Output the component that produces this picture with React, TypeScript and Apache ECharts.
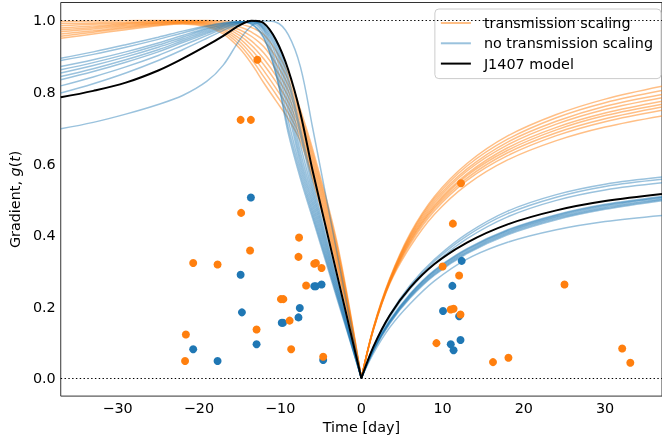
import React, { useEffect, useRef } from "react";
import * as echarts from "echarts";

const T_LEFT = [-37, -33, -29, -25, -22, -19, -17, -15, -13.5, -12, -10.5, -9, -7.5, -6, -3, 0];
const T_RIGHT = [0, 1.5, 3.5, 6, 9, 13, 18, 24, 30, 37];

const X_TICKS = [-30, -20, -10, 0, 10, 20, 30];
const Y_TICKS = [0, 0.2, 0.4, 0.6, 0.8, 1.0];

const BLACK_LEFT = [0.785, 0.803, 0.826, 0.86, 0.893, 0.93, 0.957, 0.986, 0.999, 0.992, 0.945, 0.862, 0.74, 0.58, 0.29, 0];
const BLACK_RIGHT = [0, 0.089, 0.176, 0.253, 0.319, 0.379, 0.43, 0.469, 0.495, 0.515];

const ORANGE_LEFT = [
  [0.95, 0.962, 0.974, 0.985, 0.99, 0.982, 0.962, 0.922, 0.878, 0.825, 0.775, 0.725, 0.662, 0.555, 0.31, 0],
  [0.956, 0.967, 0.978, 0.987, 0.991, 0.985, 0.968, 0.932, 0.891, 0.842, 0.793, 0.741, 0.674, 0.566, 0.319, 0],
  [0.962, 0.971, 0.981, 0.989, 0.993, 0.988, 0.973, 0.941, 0.904, 0.859, 0.81, 0.757, 0.685, 0.576, 0.328, 0],
  [0.968, 0.976, 0.984, 0.991, 0.994, 0.99, 0.977, 0.95, 0.917, 0.876, 0.828, 0.772, 0.696, 0.587, 0.336, 0],
  [0.974, 0.98, 0.987, 0.993, 0.995, 0.992, 0.982, 0.958, 0.93, 0.892, 0.845, 0.788, 0.707, 0.598, 0.345, 0],
  [0.979, 0.984, 0.99, 0.994, 0.996, 0.994, 0.986, 0.966, 0.942, 0.909, 0.862, 0.803, 0.718, 0.608, 0.354, 0],
  [0.985, 0.989, 0.992, 0.996, 0.998, 0.996, 0.99, 0.974, 0.955, 0.926, 0.879, 0.819, 0.729, 0.619, 0.363, 0],
  [0.991, 0.993, 0.995, 0.998, 0.999, 0.998, 0.994, 0.982, 0.967, 0.943, 0.897, 0.834, 0.739, 0.629, 0.371, 0],
  [0.997, 0.998, 0.999, 1.0, 1.0, 1.0, 0.998, 0.99, 0.98, 0.96, 0.915, 0.85, 0.75, 0.64, 0.38, 0],
];
const ORANGE_RIGHT = [
  [0, 0.143, 0.279, 0.404, 0.508, 0.6, 0.677, 0.737, 0.78, 0.816],
  [0, 0.142, 0.277, 0.4, 0.502, 0.593, 0.668, 0.728, 0.77, 0.804],
  [0, 0.141, 0.275, 0.396, 0.496, 0.585, 0.66, 0.718, 0.76, 0.793],
  [0, 0.14, 0.273, 0.392, 0.49, 0.579, 0.652, 0.71, 0.751, 0.784],
  [0, 0.139, 0.271, 0.388, 0.484, 0.571, 0.644, 0.701, 0.741, 0.774],
  [0, 0.139, 0.27, 0.384, 0.479, 0.566, 0.637, 0.694, 0.734, 0.766],
  [0, 0.138, 0.268, 0.38, 0.474, 0.559, 0.63, 0.686, 0.725, 0.758],
  [0, 0.137, 0.267, 0.375, 0.468, 0.553, 0.622, 0.678, 0.717, 0.749],
  [0, 0.136, 0.264, 0.367, 0.458, 0.541, 0.61, 0.664, 0.702, 0.733],
];

const BLUE_LEFT = [
  [0.894, 0.912, 0.932, 0.953, 0.97, 0.985, 0.993, 0.997, 0.989, 0.95, 0.85, 0.685, 0.558, 0.447, 0.223, 0],
  [0.888, 0.905, 0.925, 0.947, 0.965, 0.982, 0.991, 0.996, 0.99, 0.953, 0.85, 0.7, 0.571, 0.457, 0.229, 0],
  [0.871, 0.89, 0.912, 0.937, 0.958, 0.978, 0.989, 0.996, 0.993, 0.962, 0.865, 0.72, 0.585, 0.468, 0.234, 0],
  [0.862, 0.882, 0.905, 0.931, 0.953, 0.975, 0.987, 0.995, 0.994, 0.97, 0.88, 0.745, 0.6, 0.48, 0.24, 0],
  [0.853, 0.874, 0.898, 0.925, 0.948, 0.971, 0.985, 0.995, 0.996, 0.975, 0.9, 0.765, 0.615, 0.492, 0.246, 0],
  [0.843, 0.865, 0.89, 0.918, 0.943, 0.967, 0.983, 0.994, 0.997, 0.978, 0.915, 0.785, 0.632, 0.505, 0.253, 0],
  [0.834, 0.857, 0.883, 0.912, 0.938, 0.963, 0.98, 0.993, 0.998, 0.982, 0.925, 0.805, 0.652, 0.519, 0.259, 0],
  [0.817, 0.842, 0.87, 0.902, 0.93, 0.958, 0.977, 0.992, 0.998, 0.986, 0.935, 0.825, 0.68, 0.533, 0.267, 0],
  [0.797, 0.823, 0.853, 0.888, 0.918, 0.95, 0.972, 0.99, 0.998, 0.99, 0.945, 0.84, 0.695, 0.549, 0.274, 0],
  [0.697, 0.715, 0.738, 0.765, 0.79, 0.83, 0.875, 0.945, 0.985, 0.998, 0.995, 0.96, 0.87, 0.7, 0.35, 0],
];
const BLUE_RIGHT = [
  [0, 0.088, 0.178, 0.26, 0.332, 0.404, 0.467, 0.513, 0.542, 0.562],
  [0, 0.087, 0.175, 0.256, 0.327, 0.398, 0.46, 0.506, 0.536, 0.556],
  [0, 0.085, 0.171, 0.25, 0.32, 0.39, 0.451, 0.497, 0.526, 0.546],
  [0, 0.082, 0.162, 0.236, 0.302, 0.362, 0.415, 0.457, 0.486, 0.508],
  [0, 0.081, 0.16, 0.234, 0.3, 0.36, 0.413, 0.455, 0.484, 0.506],
  [0, 0.08, 0.159, 0.232, 0.297, 0.357, 0.41, 0.452, 0.481, 0.504],
  [0, 0.079, 0.157, 0.229, 0.294, 0.354, 0.407, 0.449, 0.478, 0.501],
  [0, 0.078, 0.155, 0.227, 0.291, 0.351, 0.404, 0.446, 0.475, 0.499],
  [0, 0.077, 0.153, 0.224, 0.288, 0.348, 0.401, 0.443, 0.472, 0.496],
  [0, 0.07, 0.142, 0.208, 0.272, 0.333, 0.38, 0.415, 0.438, 0.455],
];

const ORANGE_DOTS_T = [-12.8, -14.86, -13.6, -14.8, -20.7, -17.7, -13.7, -21.6, -21.7, -7.67, -7.74, -5.8, -5.6, -4.9, -6.8, -9.9, -9.6, -8.83, -12.9, -8.64, -4.7, 11.26, 10.0, 12.03, 11.0, 11.35, 12.2, 9.24, 16.2, 18.1, 25.0, 32.1, 33.1, 12.26];
const ORANGE_DOTS_G = [0.89, 0.722, 0.722, 0.462, 0.322, 0.318, 0.357, 0.122, 0.048, 0.393, 0.339, 0.32, 0.322, 0.308, 0.259, 0.221, 0.221, 0.161, 0.136, 0.081, 0.06, 0.432, 0.312, 0.287, 0.192, 0.194, 0.178, 0.098, 0.045, 0.057, 0.262, 0.083, 0.043, 0.545];
const BLUE_DOTS_T = [-13.6, -14.86, -14.7, -20.7, -17.7, -12.9, -9.8, -9.65, -7.74, -7.58, -5.8, -5.6, -4.9, -4.7, 12.35, 11.2, 10.05, 12.03, 11.0, 11.35, 12.2];
const BLUE_DOTS_G = [0.505, 0.289, 0.184, 0.081, 0.048, 0.095, 0.155, 0.155, 0.17, 0.196, 0.257, 0.257, 0.262, 0.051, 0.328, 0.258, 0.188, 0.173, 0.095, 0.078, 0.107];

const ORANGE = "#ff7f0e";
const BLUE = "#1f77b4";
const ORANGE_LINE = "rgba(255,127,14,0.5)";
const BLUE_LINE = "rgba(31,119,180,0.45)";
const FONT = "DejaVu Sans";
const FS = 14.36;

const zip = (xs: number[], ys: number[]) => xs.map((x, i) => [x, ys[i]]);
const fmtMinus = (v: number, d: number) => v.toFixed(d).replace("-", "\u2212");

function lineSeries(name: string, xs: number[], ys: number[], color: string, width: number, z: number) {
  return {
    type: "line",
    name,
    data: zip(xs, ys),
    smooth: 0.35,
    symbol: "none",
    showSymbol: false,
    silent: true,
    z,
    itemStyle: { color },
    lineStyle: { color, width },
  };
}

export default function App() {
  const ref = useRef<HTMLDivElement>(null);
  useEffect(() => {
    if (!ref.current) return;
    const chart = echarts.init(ref.current, undefined, { renderer: "svg" });
    const series: any[] = [];
    ORANGE_LEFT.forEach((ys, i) => {
      series.push(lineSeries("transmission scaling", T_LEFT, ys, ORANGE_LINE, 1.5, 2));
      series.push(lineSeries("transmission scaling", T_RIGHT, ORANGE_RIGHT[i], ORANGE_LINE, 1.5, 2));
    });
    BLUE_LEFT.forEach((ys, i) => {
      series.push(lineSeries("no transmission scaling", T_LEFT, ys, BLUE_LINE, 1.5, 3));
      series.push(lineSeries("no transmission scaling", T_RIGHT, BLUE_RIGHT[i], BLUE_LINE, 1.5, 3));
    });
    const blackL: any = lineSeries("J1407 model", T_LEFT, BLACK_LEFT, "#000", 2, 4);
    blackL.markLine = {
      silent: true,
      symbol: "none",
      label: { show: false },
      lineStyle: { color: "#000", type: [1.4, 2.4], width: 1.2 },
      data: [{ yAxis: 0 }, { yAxis: 1 }],
    };
    series.push(blackL);
    series.push(lineSeries("J1407 model", T_RIGHT, BLACK_RIGHT, "#000", 2, 4));
    series.push({
      type: "scatter",
      name: "blue points",
      data: zip(BLUE_DOTS_T, BLUE_DOTS_G),
      symbolSize: 8,
      itemStyle: { color: BLUE, opacity: 1 },
      z: 5,
      silent: true,
    });
    series.push({
      type: "scatter",
      name: "orange points",
      data: zip(ORANGE_DOTS_T, ORANGE_DOTS_G),
      symbolSize: 8,
      itemStyle: { color: ORANGE, opacity: 1 },
      z: 6,
      silent: true,
    });

    chart.setOption({
      animation: false,
      textStyle: { fontFamily: FONT },
      grid: {
        left: 54.5,
        top: 2.5,
        right: -2.6,
        bottom: 41.3,
        show: true,
        borderColor: "#333",
        borderWidth: 1,
        backgroundColor: "transparent",
        containLabel: false,
      },
      legend: {
        orient: "vertical",
        right: 1,
        top: 9,
        itemWidth: 30,
        itemHeight: 2,
        itemGap: 6.3,
        padding: [7, 8, 8, 6],
        backgroundColor: "rgba(255,255,255,0.8)",
        borderColor: "#cccccc",
        borderWidth: 1,
        borderRadius: 4,
        selectedMode: false,
        textStyle: { fontFamily: FONT, fontSize: FS, color: "#000", padding: [0, 0, 0, 8] },
        data: [
          { name: "transmission scaling", icon: "rect", itemStyle: { color: ORANGE_LINE } },
          { name: "no transmission scaling", icon: "rect", itemStyle: { color: BLUE_LINE } },
          { name: "J1407 model", icon: "rect", itemStyle: { color: "#000" } },
        ],
      },
      xAxis: {
        type: "value",
        min: -37,
        max: 37,
        name: "Time [day]",
        nameLocation: "middle",
        nameGap: 20,
        nameTextStyle: { fontFamily: FONT, fontSize: FS, color: "#000" },
        axisLine: { show: false, onZero: false },
        splitLine: { show: false },
        axisTick: { show: false },
        axisLabel: {
          customValues: X_TICKS,
          margin: 5,
          fontFamily: FONT,
          fontSize: FS,
          color: "#000",
          formatter: (v: number) => fmtMinus(v, 0),
        },
      },
      yAxis: {
        type: "value",
        min: -0.05,
        max: 1.05,
        name: "Gradient, {it|g}({it|t})",
        nameLocation: "middle",
        nameGap: 36,
        nameRotate: 90,
        nameTextStyle: {
          fontFamily: FONT,
          fontSize: FS,
          color: "#000",
          rich: { it: { fontStyle: "italic", fontFamily: FONT, fontSize: FS, color: "#000" } },
        },
        axisLine: { show: false, onZero: false },
        splitLine: { show: false },
        axisTick: { show: false },
        axisLabel: {
          customValues: Y_TICKS,
          margin: 5,
          fontFamily: FONT,
          fontSize: FS,
          color: "#000",
          formatter: (v: number) => fmtMinus(v, 1),
        },
      },
      series,
    });
    return () => chart.dispose();
  }, []);
  return <div ref={ref} style={{ position: "fixed", left: 0, top: 0, width: 662, height: 439 }} />;
}
